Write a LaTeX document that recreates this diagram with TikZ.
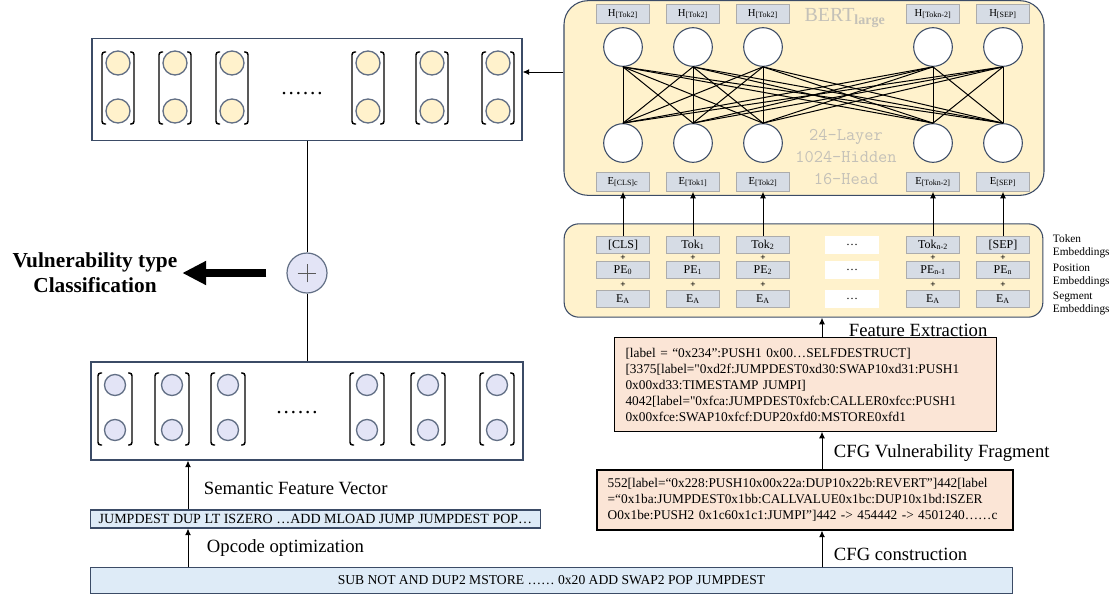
\documentclass[tikz,border=0pt]{standalone}
\usepackage{fontspec}
\setmainfont{Liberation Serif}
\usetikzlibrary{arrows.meta}

\definecolor{slate}{HTML}{3B4B66}
\definecolor{cream}{HTML}{FFF2CC}
\definecolor{tag}{HTML}{D6DCE5}
\definecolor{lilac}{HTML}{E3E4F6}
\definecolor{sky}{HTML}{DEEBF7}
\definecolor{peach}{HTML}{FBE5D6}
\definecolor{faint}{HTML}{C4C1B8}

\begin{document}
\begin{tikzpicture}[x = 0.75pt, y = -0.75pt, line width = 0.75pt, > = {Latex[length = 5pt, width = 4.5pt]},
	frame/.style = {draw = slate, line width = 0.8pt, inner sep = 0pt},
	tagbox/.style = {draw = gray!65, fill = tag, line width = 0.6pt, minimum width = 40pt, minimum height = 14pt, inner sep = 0pt, font = \fontsize{8}{9}\selectfont},
	neuron/.style = {circle, draw = slate, fill = white, line width = 0.8pt, minimum size = 29pt, inner sep = 0pt},
	cell/.style = {circle, draw = slate!80, line width = 1pt, inner sep = 0pt},
	bracket/.style = {line width = 1.1pt, rounded corners = 2pt},
	bar/.style = {draw = slate, fill = sky, line width = 0.8pt, inner sep = 0pt},
	codebox/.style = {draw, fill = peach, line width = 0.8pt, align = left, inner xsep = 8pt, font = \fontsize{10}{12}\selectfont},
	note/.style = {anchor = west, font = \fontsize{14}{16}\selectfont},
	side/.style = {anchor = west, align = left, font = \fontsize{8.5}{9.75}\selectfont}
]

	\useasboundingbox (0, 0) rectangle (1118, 597);

	% BERT block

	\node [frame, fill = cream, rounded corners = 18pt, minimum width = 360pt, minimum height = 146pt] (bert) at (804, 98) {};
	\node [text = faint, font = \fontsize{15}{17}\selectfont] (berttitle) at (845, 18) {BERT\textsubscript{\textbf{large}}};
	\node [text = faint, align = center, font = \ttfamily\fontsize{13.4}{16.5}\selectfont] (bertsize) at (846, 157) {24-Layer\\1024-Hidden\\16-Head};

	\foreach \x/\h/\e [count = \i] in {623/{[Tok2]}/{[CLS]c}, 693/{[Tok2]}/{[Tok1]}, 763/{[Tok2]}/{[Tok2]}, 933/{[Tokn-2]}/{[Tokn-2]}, 1003/{[SEP]}/{[SEP]}}
	{
		\node [tagbox] (hout\i) at (\x, 14) {H\textsubscript{\h}};
		\node [neuron] (top\i) at (\x, 47) {};
		\node [neuron] (low\i) at (\x, 143) {};
		\node [tagbox] (ein\i) at (\x, 182) {E\textsubscript{\e}};
	}

	% every input unit feeds every output unit
	\foreach \i in {1, ..., 5}
		\foreach \j in {1, ..., 5}
			\draw (top\i.south) -- (low\j.north);

	% Embedding block

	\node [frame, fill = cream, rounded corners = 11pt, minimum width = 359pt, minimum height = 70pt] (embed) at (803.5, 270.5) {};

	\foreach \x/\t/\p [count = \i] in {623/{[CLS]}/0, 693/{Tok\textsubscript{1}}/1, 763/{Tok\textsubscript{2}}/2, 933/{Tok\textsubscript{n-2}}/{n-1}, 1003/{[SEP]}/n}
	{
		\node [tagbox, font = \fontsize{9}{10}\selectfont, minimum height = 13pt] (tok\i) at (\x, 245) {\t};
		\node [tagbox, font = \fontsize{9}{10}\selectfont, minimum height = 13pt] (pos\i) at (\x, 270) {PE\textsubscript{\p}};
		\node [tagbox, font = \fontsize{9}{10}\selectfont, minimum height = 13pt] (seg\i) at (\x, 299) {E\textsubscript{A}};
		\node [font = \bfseries\fontsize{7}{7}\selectfont, inner sep = 0pt] (plusa\i) at (\x, 257.5) {+};
		\node [font = \bfseries\fontsize{7}{7}\selectfont, inner sep = 0pt] (plusb\i) at (\x, 285) {+};
		\draw [->] (tok\i) -- (ein\i);
	}

	\foreach \y [count = \k] in {245, 270, 299}
		\node [fill = white, minimum width = 40pt, minimum height = 13pt, inner sep = 0pt, font = \fontsize{9}{10}\selectfont] (gap\k) at (852, \y) {…};

	\node [side] (toklab) at (1048, 246) {Token\\Embeddings};
	\node [side] (poslab) at (1048, 275) {Position\\Embeddings};
	\node [side] (seglab) at (1048, 303) {Segment\\Embeddings};

	% CFG fragments

	\node [codebox, text width = 270pt, minimum height = 70pt] (cfgup) at (805.5, 384.5)
		{[label = “0x234”:PUSH1 0x00…SELFDESTRUCT]\\{}[3375[label=\textquotedbl 0xd2f:JUMPDEST0xd30:SWAP10xd31:PUSH1\\0x00xd33:TIMESTAMP JUMPI]\\4042[label=\textquotedbl 0xfca:JUMPDEST0xfcb:CALLER0xfcc:PUSH1\\0x00xfce:SWAP10xfcf:DUP20xfd0:MSTORE0xfd1};
	\node [codebox, text width = 296pt, minimum height = 45pt] (cfglow) at (805, 500)
		{552[label=“0x228:PUSH10x00x22a:DUP10x22b:REVERT”]442[label\\=“0x1ba:JUMPDEST0x1bb:CALLVALUE0x1bc:DUP10x1bd:ISZER\\O0x1be:PUSH2 0x1c60x1c1:JUMPI”]442 -> 454442 -> 4501240……c};

	% Opcode bars

	\node [bar, minimum width = 692pt, minimum height = 19pt, font = \fontsize{10.2}{11}\selectfont] (opraw) at (551.5, 580.5) {SUB NOT AND DUP2 MSTORE …… 0x20 ADD SWAP2 POP JUMPDEST};
	\node [bar, minimum width = 338pt, minimum height = 13.5pt, font = \fontsize{10.5}{11}\selectfont] (opopt) at (315.5, 519) {JUMPDEST DUP LT ISZERO …ADD MLOAD JUMP JUMPDEST POP…};

	% Vector blocks

	\node [frame, minimum width = 322.5pt, minimum height = 76pt] (hidvec) at (307, 89.5) {};
	\node [frame, minimum width = 324pt, minimum height = 73.5pt] (semvec) at (307, 411) {};

	\foreach \x [count = \i] in {118, 175, 232, 368, 432, 498}
	{
		\node [cell, fill = cream, minimum size = 18pt] (hida\i) at (\x, 63) {};
		\node [cell, fill = cream, minimum size = 18pt] (hidb\i) at (\x, 111) {};
		\draw [bracket] (\x-12, 52) -- (\x-16, 52) -- (\x-16, 124) -- (\x-12, 124);
		\draw [bracket] (\x+12, 52) -- (\x+16, 52) -- (\x+16, 124) -- (\x+12, 124);
	}
	\node [font = \fontsize{16}{16}\selectfont] (hiddots) at (302, 94) {……};

	\foreach \x [count = \i] in {115, 172, 228, 367, 428, 497}
	{
		\node [cell, fill = lilac, minimum size = 15.75pt] (sema\i) at (\x, 385) {};
		\node [cell, fill = lilac, minimum size = 15.75pt] (semb\i) at (\x, 430) {};
		\draw [bracket] (\x-13, 373) -- (\x-17, 373) -- (\x-17, 445) -- (\x-13, 445);
		\draw [bracket] (\x+13, 373) -- (\x+17, 373) -- (\x+17, 445) -- (\x+13, 445);
	}
	\node [font = \fontsize{16}{16}\selectfont] (semdots) at (297, 413) {……};

	% Fusion and output

	\node [circle, draw = slate!80, fill = lilac, line width = 0.9pt, minimum size = 30pt] (sum) at (307, 273) {};
	\draw [gray!70!black, line width = 0.6pt] ([xshift = -7pt] sum.center) -- ([xshift = 7pt] sum.center)
		([yshift = -7pt] sum.center) -- ([yshift = 7pt] sum.center);

	\node [align = center, font = \bfseries\fontsize{16}{18.75}\selectfont] (vultype) at (95, 273) {Vulnerability type\\Classification};
	\draw [line width = 6pt, shorten <= 15pt, -{Triangle[length = 18pt, width = 17pt]}] (sum.west) -- (vultype.east);

	% Connectors

	\draw (hidvec) -- (sum);
	\draw (sum) -- (semvec);

	\coordinate (ya) at (0, 72);
	\coordinate (lx) at (188, 0);
	\coordinate (rx) at (822, 0);

	\draw [->] (bert.west |- ya) -- (hidvec.east |- ya);
	\draw [->] (opraw.north -| lx) -- (opopt.south -| lx);
	\draw [->] (opopt.north -| lx) -- (semvec.south -| lx);
	\draw [->] (opraw.north -| rx) -- (cfglow.south -| rx);
	\draw [->] (cfglow.north -| rx) -- (cfgup.south -| rx);
	\draw [->] (cfgup.north -| rx) -- (embed.south -| rx);

	% Step labels

	\node [note] (semlab) at (199, 488) {Semantic Feature Vector};
	\node [note] (optlab) at (202, 548) {Opcode optimization};
	\node [note] (conlab) at (829, 554) {CFG construction};
	\node [note] (fraglab) at (829, 453) {CFG Vulnerability Fragment};
	\node [note] (extlab) at (844, 330) {Feature Extraction};

\end{tikzpicture}
\end{document}
